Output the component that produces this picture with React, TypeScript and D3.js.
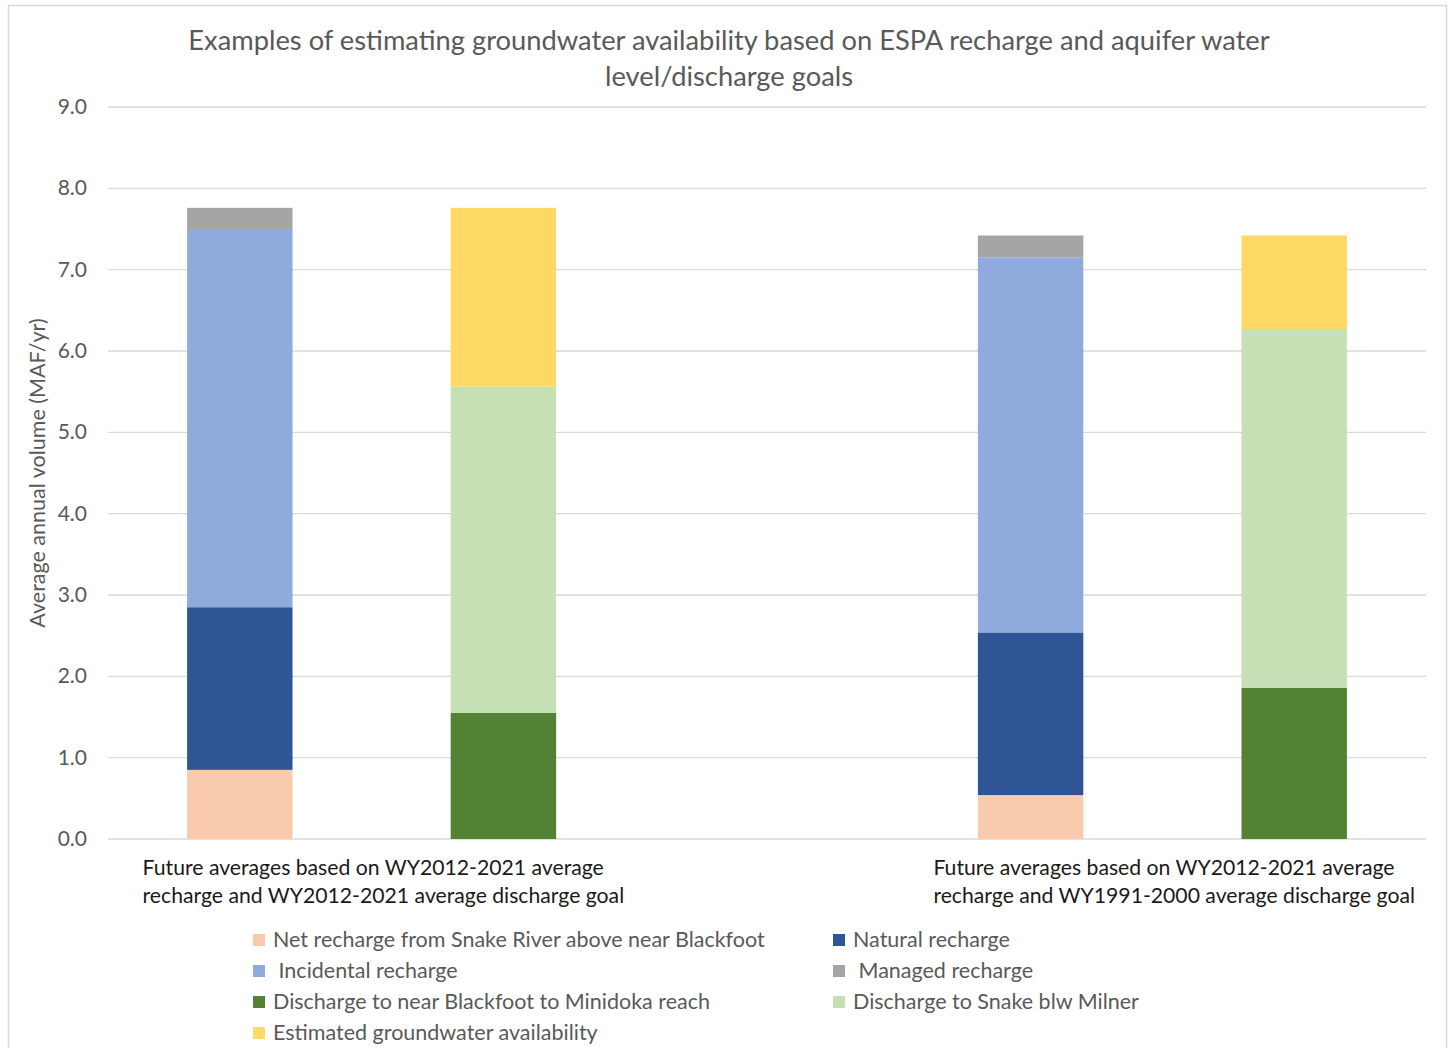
import React from "react";
import * as d3 from "d3";

const W = 1449;
const H = 1048;

const slots = ["g1-recharge", "g1-discharge", "spacer", "g2-recharge", "g2-discharge"];
const groupLabels = [
  ["Future averages based on WY2012-2021 average", "recharge and WY2012-2021 average discharge goal"],
  ["Future averages based on WY2012-2021 average", "recharge and WY1991-2000 average discharge goal"],
];
const groupSlots = [["g1-recharge", "g1-discharge"], ["g2-recharge", "g2-discharge"]];

const seriesNames = [
  "Net recharge from Snake River above near Blackfoot",
  "Natural recharge",
  " Incidental recharge",
  " Managed recharge",
  "Discharge to near Blackfoot to Minidoka reach",
  "Discharge to Snake blw Milner",
  "Estimated groundwater availability",
];
const seriesColors = ["#F8CBAD", "#2F5597", "#8FAADC", "#A5A5A5", "#548235", "#C5E0B4", "#FFD966"];

// values per slot (g1-recharge, g1-discharge, spacer, g2-recharge, g2-discharge)
const netRecharge = [0.85, 0, 0, 0.54, 0];
const naturalRecharge = [2.0, 0, 0, 2.0, 0];
const incidentalRecharge = [4.65, 0, 0, 4.61, 0];
const managedRecharge = [0.26, 0, 0, 0.27, 0];
const dischargeMinidoka = [0, 1.55, 0, 0, 1.86];
const dischargeMilner = [0, 4.01, 0, 0, 4.41];
const estimatedAvailability = [0, 2.2, 0, 0, 1.15];

const seriesValues = [
  netRecharge,
  naturalRecharge,
  incidentalRecharge,
  managedRecharge,
  dischargeMinidoka,
  dischargeMilner,
  estimatedAvailability,
];

const yTicks = [0, 1, 2, 3, 4, 5, 6, 7, 8, 9];

const FONT = "Lato, 'Open Sans', sans-serif";

export default function App() {
  const x0 = 108, x1 = 1426;
  const yTop = 107, yBot = 839;
  const x = d3.scaleBand<string>().domain(slots).range([x0, x1]).paddingInner(0.6).paddingOuter(0.3);
  const y = d3.scaleLinear().domain([0, 9]).range([yBot, yTop]);

  const rows = slots.map((s, i) => {
    const r: any = { slot: s };
    seriesNames.forEach((n, k) => (r[n] = seriesValues[k][i]));
    return r;
  });
  const stack = d3.stack<any>().keys(seriesNames)(rows);

  return (
    <svg width={W} height={H} style={{ position: "absolute", left: 0, top: 0 }} fontFamily={FONT}>
      <rect x={0} y={0} width={W} height={H} fill="#fff" />
      <rect x={8.5} y={5.5} width={1438} height={1100} fill="none" stroke="#D9D9D9" strokeWidth={1.5} />
      <text x={729} y={50} textAnchor="middle" fontSize={27.3} fill="#595959">
        Examples of estimating groundwater availability based on ESPA recharge and aquifer water
      </text>
      <text x={729} y={86} textAnchor="middle" fontSize={27.3} fill="#595959">
        level/discharge goals
      </text>
      {yTicks.map((t) => (
        <g key={t}>
          <line x1={x0} x2={x1} y1={y(t)} y2={y(t)} stroke="#D9D9D9" strokeWidth={1.3} />
          <text x={87} y={y(t) + 7} textAnchor="end" fontSize={21} fill="#595959">
            {t.toFixed(1)}
          </text>
        </g>
      ))}
      <text
        transform={`translate(45, ${(yTop + yBot) / 2}) rotate(-90)`}
        textAnchor="middle"
        fontSize={21.5}
        fill="#595959"
      >
        Average annual volume (MAF/yr)
      </text>
      {stack.map((layer, k) =>
        layer.map((d, i) =>
          d[1] - d[0] > 0 ? (
            <rect
              key={`${k}-${i}`}
              x={x(slots[i])!}
              width={x.bandwidth()}
              y={y(d[1])}
              height={y(d[0]) - y(d[1])}
              fill={seriesColors[k]}
            />
          ) : null
        )
      )}
      {groupLabels.map((lines, g) => {
        const cx = (x(groupSlots[g][0])! + x(groupSlots[g][1])! + x.bandwidth()) / 2;
        const lx = cx - 229;
        return (
          <g key={g}>
            {lines.map((ln, j) => (
              <text key={j} x={lx} y={875 + j * 28} fontSize={21.2} fill="#1a1a1a">
                {ln}
              </text>
            ))}
          </g>
        );
      })}
      {seriesNames.map((n, k) => {
        const col = k % 2;
        const row = Math.floor(k / 2);
        const sx = col === 0 ? 253 : 833;
        const sy = 940 + row * 31;
        return (
          <g key={n}>
            <rect x={sx} y={sy - 6} width={12} height={12} fill={seriesColors[k]} />
            <text x={sx + 20} y={sy + 7} fontSize={21.5} fill="#595959" style={{ whiteSpace: "pre" }}>
              {n}
            </text>
          </g>
        );
      })}
    </svg>
  );
}
